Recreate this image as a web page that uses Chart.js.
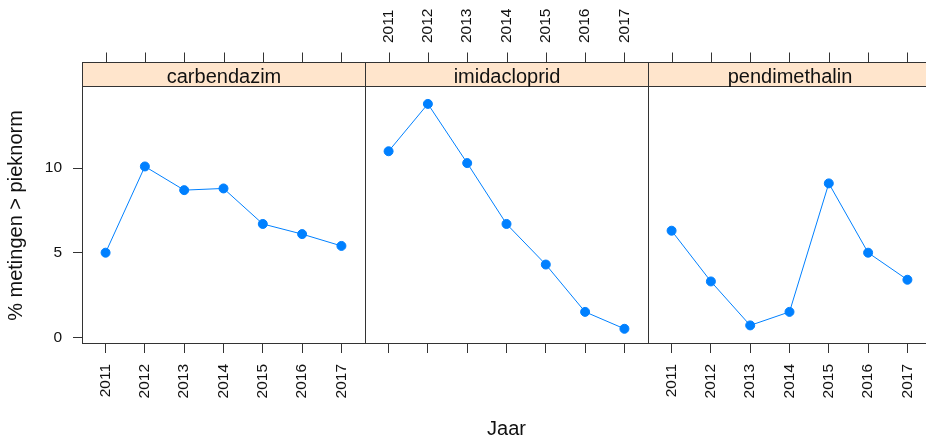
<!DOCTYPE html>
<html>
<head>
<meta charset="utf-8">
<title>% metingen > pieknorm</title>
<script src="https://cdn.jsdelivr.net/npm/chart.js@4/dist/chart.umd.min.js"></script>
<style>
  html, body { margin: 0; padding: 0; background: #fff; overflow: hidden; }
  canvas { display: block; }
</style>
</head>
<body>
<canvas id="c" width="940" height="439"></canvas>
<script>
// Yearly share of measurements above the peak norm, per compound
const years = [2011, 2012, 2013, 2014, 2015, 2016, 2017];
const compounds = ['carbendazim', 'imidacloprid', 'pendimethalin'];
const carbendazim = [5.0, 10.1, 8.7, 8.8, 6.7, 6.1, 5.4];
const imidacloprid = [11.0, 13.8, 10.3, 6.7, 4.3, 1.5, 0.5];
const pendimethalin = [6.3, 3.3, 0.7, 1.5, 9.1, 5.0, 3.4];
const yTicks = [0, 5, 10];
const xTitle = 'Jaar';
const yTitle = '% metingen > pieknorm';

const series = [carbendazim, imidacloprid, pendimethalin];

// Panels sit side by side on one linear x scale; each spans the year range plus a margin.
const PAD = 0.6;
const SPAN = (years[years.length - 1] - years[0]) + 2 * PAD;
const toX = (panel, year) => panel * SPAN + PAD + (year - years[0]);

const FONT = "'Liberation Sans', Arial, sans-serif";
const INK = '#111';
const RULE = '#333';
const BLUE = '#0080ff';
const STRIP_BG = '#ffe5cc';
const STRIP_H = 24;
const TOP_TICK = 10;

const panelTicks = [];
compounds.forEach((_, p) => years.forEach(yr => panelTicks.push(toX(p, yr))));

// year labels only under/over the given panels
const yearLabel = shown => (value, index) =>
  shown.includes(Math.floor(index / years.length)) ? String(years[index % years.length]) : '';

const fixedSize = (key, size) => scale => {
  scale[key] = size;
  scale.paddingLeft = scale.paddingRight = scale.paddingTop = scale.paddingBottom = 0;
};

const crisp = v => Math.round(v) + 0.5;

// panel boxes, strips with compound names, tick marks above the strips
const panelPlugin = {
  id: 'panels',
  afterDatasetsDraw(chart) {
    const { ctx, chartArea: a, scales } = chart;
    const x = scales.x, xTop = scales.xTop;
    const top = crisp(a.top) - 1;
    const bottom = crisp(a.bottom) - 1;
    const stripTop = top - STRIP_H;
    ctx.save();
    ctx.lineWidth = 1;
    ctx.strokeStyle = RULE;
    compounds.forEach((name, p) => {
      const l = crisp(x.getPixelForValue(p * SPAN));
      const r = crisp(x.getPixelForValue((p + 1) * SPAN));
      ctx.fillStyle = STRIP_BG;
      ctx.fillRect(l, stripTop, r - l, STRIP_H);
      ctx.strokeRect(l, stripTop, r - l, STRIP_H);
      ctx.strokeRect(l, top, r - l, bottom - top);
      ctx.fillStyle = INK;
      ctx.font = '20px ' + FONT;
      ctx.textAlign = 'center';
      ctx.textBaseline = 'alphabetic';
      ctx.fillText(name, (l + r) / 2, top - 4);
    });
    ctx.beginPath();
    xTop.ticks.forEach(t => {
      const px = crisp(xTop.getPixelForValue(t.value));
      ctx.moveTo(px, stripTop - TOP_TICK);
      ctx.lineTo(px, stripTop);
    });
    ctx.stroke();
    ctx.restore();
  }
};

const TICK_SIZE = 15.5;
const tickFont = { family: FONT, size: TICK_SIZE, lineHeight: 1.2 };
const titleFont = { family: FONT, size: 20, lineHeight: 1 };

new Chart(document.getElementById('c'), {
  type: 'line',
  data: {
    datasets: compounds.map((name, p) => ({
      label: name,
      data: years.map((yr, i) => ({ x: toX(p, yr), y: series[p][i] })),
      borderColor: BLUE,
      backgroundColor: BLUE,
      pointBackgroundColor: BLUE,
      pointBorderColor: BLUE,
      borderWidth: 1,
      pointRadius: 4.5,
      pointBorderWidth: 1,
      tension: 0,
      fill: false,
      xAxisID: 'x',
      yAxisID: 'y'
    }))
  },
  options: {
    responsive: false,
    animation: false,
    devicePixelRatio: 1,
    events: [],
    layout: { padding: { left: 0, top: 0, right: 9, bottom: 0 } },
    plugins: { legend: { display: false }, tooltip: { enabled: false } },
    scales: {
      x: {
        type: 'linear',
        position: 'bottom',
        min: 0,
        max: SPAN * compounds.length,
        afterBuildTicks: s => { s.ticks = panelTicks.map(v => ({ value: v })); },
        afterFit: fixedSize('height', 95),
        grid: { drawOnChartArea: false, drawTicks: true, tickLength: 9, color: RULE },
        border: { display: false },
        ticks: {
          autoSkip: false, minRotation: 90, maxRotation: 90, padding: 11,
          color: INK, font: tickFont, callback: yearLabel([0, 2])
        },
        title: { display: true, text: xTitle, color: INK, font: titleFont, padding: { top: 0, bottom: 0 } }
      },
      xTop: {
        type: 'linear',
        position: 'top',
        min: 0,
        max: SPAN * compounds.length,
        afterBuildTicks: s => { s.ticks = panelTicks.map(v => ({ value: v })); },
        afterFit: fixedSize('height', 87),
        grid: { display: false, drawTicks: false },
        border: { display: false },
        ticks: {
          autoSkip: false, minRotation: 90, maxRotation: 90, padding: STRIP_H + TOP_TICK + 10,
          labelOffset: TICK_SIZE * 1.2,
          color: INK, font: tickFont, callback: yearLabel([1])
        }
      },
      y: {
        type: 'linear',
        position: 'left',
        min: -0.4,
        max: 14.8,
        afterBuildTicks: s => { s.ticks = yTicks.map(v => ({ value: v })); },
        afterFit: fixedSize('width', 82),
        grid: { drawOnChartArea: false, drawTicks: true, tickLength: 9, color: RULE },
        border: { display: false },
        ticks: { padding: 11, color: INK, font: tickFont },
        title: { display: true, text: yTitle, color: INK, font: titleFont, padding: { top: 6, bottom: 0 } }
      }
    }
  },
  plugins: [panelPlugin]
});
</script>
</body>
</html>
